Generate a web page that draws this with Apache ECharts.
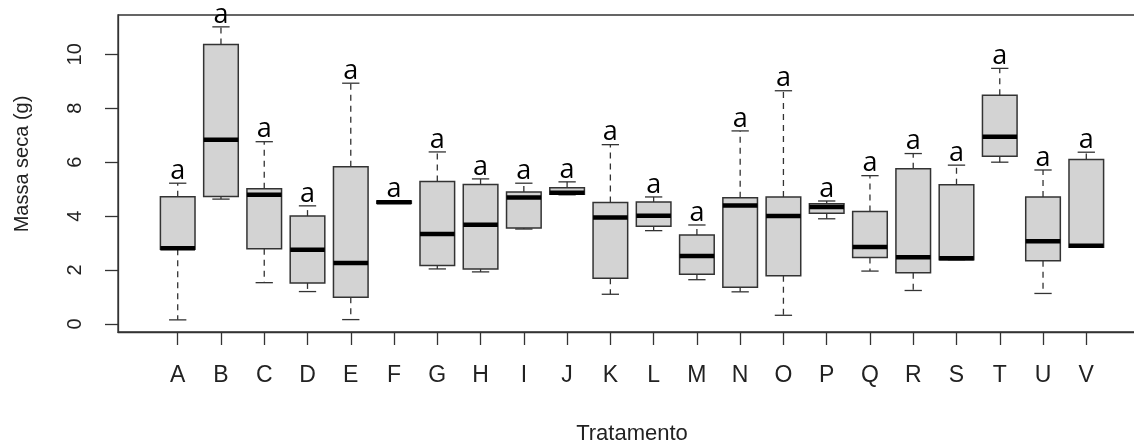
<!DOCTYPE html>
<html>
<head>
<meta charset="utf-8">
<script src="https://cdn.jsdelivr.net/npm/echarts@6/dist/echarts.min.js"></script>
<style>
html,body{margin:0;padding:0;background:#fff;}
#chart{width:1134px;height:443px;}
</style>
</head>
<body>
<div id="chart"></div>
<script>
const categories = ['A','B','C','D','E','F','G','H','I','J','K','L','M','N','O','P','Q','R','S','T','U','V'];
const whiskerLow  = [0.15, 4.63, 1.53, 1.20, 0.16, 4.48, 2.04, 1.93, 3.52, 4.79, 1.10, 3.46, 1.64, 1.19, 0.32, 3.90, 1.96, 1.24, 2.38, 6.00, 1.13, 2.84];
const q1          = [2.77, 4.73, 2.79, 1.52, 0.99, 4.48, 2.17, 2.04, 3.56, 4.81, 1.69, 3.62, 1.84, 1.36, 1.79, 4.11, 2.46, 1.90, 2.38, 6.22, 2.34, 2.84];
const median      = [2.81, 6.83, 4.79, 2.75, 2.26, 4.51, 3.34, 3.68, 4.69, 4.87, 3.95, 4.01, 2.52, 4.39, 4.00, 4.34, 2.85, 2.47, 2.44, 6.94, 3.07, 2.90];
const q3          = [4.72, 10.37, 5.01, 4.00, 5.83, 4.56, 5.28, 5.17, 4.89, 5.05, 4.50, 4.52, 3.30, 4.68, 4.71, 4.46, 4.17, 5.76, 5.16, 8.48, 4.71, 6.10];
const whiskerHigh = [5.22, 11.02, 6.76, 4.38, 8.93, 4.56, 6.38, 5.38, 5.22, 5.27, 6.65, 4.71, 3.67, 7.16, 8.65, 4.56, 5.50, 6.32, 5.89, 9.48, 5.71, 6.37];
const letters     = ['a','a','a','a','a','a','a','a','a','a','a','a','a','a','a','a','a','a','a','a','a','a'];
const yTicks = [0, 2, 4, 6, 8, 10];

const positions = categories.map((c, i) => i + 1);
const data = categories.map((c, i) => [positions[i], whiskerLow[i], q1[i], median[i], q3[i], whiskerHigh[i], i]);

const chart = echarts.init(document.getElementById('chart'), null, {renderer: 'canvas'});
const axisColor = '#333';
const textColor = '#222';

chart.setOption({
  backgroundColor: '#fff',
  animation: false,
  grid: {left: 118, top: 15, width: 1028, height: 317, outerBoundsMode: 'none', containLabel: false,
    show: true, borderColor: axisColor, borderWidth: 1.3, backgroundColor: 'transparent'},
  xAxis: {
    type: 'value', min: -0.38, max: 23.38,
    splitLine: {show: false},
    axisLine: {show: true, onZero: false, lineStyle: {color: axisColor, width: 1.3}},
    axisTick: {show: true, customValues: positions, length: 13, inside: false, lineStyle: {color: axisColor, width: 1.3}},
    axisLabel: {customValues: positions, margin: 32, formatter: v => categories[Math.round(v) - 1] || '',
      color: textColor, fontFamily: '"Liberation Sans", Arial, sans-serif', fontSize: 23},
    name: 'Tratamento', nameLocation: 'middle', nameGap: 91,
    nameTextStyle: {color: textColor, fontFamily: '"Liberation Sans", Arial, sans-serif', fontSize: 22}
  },
  yAxis: {
    type: 'value', min: -0.3, max: 11.46,
    splitLine: {show: false},
    axisLine: {show: true, onZero: false, lineStyle: {color: axisColor, width: 1.3}},
    axisTick: {show: true, customValues: yTicks, length: 13, lineStyle: {color: axisColor, width: 1.3}},
    axisLabel: {customValues: yTicks, rotate: 90, margin: 33, color: textColor,
      fontFamily: '"Liberation Sans", Arial, sans-serif', fontSize: 20}
  },
  graphic: [{
    type: 'text', x: 22, y: 164, rotation: Math.PI / 2,
    style: {text: 'Massa seca (g)', align: 'center', verticalAlign: 'middle', fill: textColor,
      font: '20px "Liberation Sans", Arial, sans-serif'}
  }],
  series: [{
    type: 'custom',
    clip: false,
    encode: {x: 0, y: [1, 2, 3, 4, 5]},
    data: data,
    renderItem: function (params, api) {
      const x = api.value(0);
      const lo = api.value(1), a = api.value(2), m = api.value(3), b = api.value(4), hi = api.value(5);
      const idx = api.value(6);
      const half = 0.4, capHalf = 0.2;
      const pTL = api.coord([x - half, b]);
      const pBR = api.coord([x + half, a]);
      const cx = api.coord([x, m])[0];
      const yLo = api.coord([x, lo])[1];
      const yA = api.coord([x, a])[1];
      const yM = api.coord([x, m])[1];
      const yB = api.coord([x, b])[1];
      const yHi = api.coord([x, hi])[1];
      const capL = api.coord([x - capHalf, hi])[0];
      const capR = api.coord([x + capHalf, hi])[0];
      const children = [];
      const dashStyle = {stroke: axisColor, lineWidth: 1.3, lineDash: [6, 5]};
      const solid = {stroke: axisColor, lineWidth: 1.3};
      if (yHi < yB - 0.5) children.push({type: 'line', shape: {x1: cx, y1: yB, x2: cx, y2: yHi}, style: dashStyle});
      if (yLo > yA + 0.5) children.push({type: 'line', shape: {x1: cx, y1: yA, x2: cx, y2: yLo}, style: dashStyle});
      children.push({type: 'line', shape: {x1: capL, y1: yHi, x2: capR, y2: yHi}, style: solid});
      children.push({type: 'line', shape: {x1: capL, y1: yLo, x2: capR, y2: yLo}, style: solid});
      children.push({type: 'rect', shape: {x: pTL[0], y: pTL[1], width: pBR[0] - pTL[0], height: pBR[1] - pTL[1]},
        style: {fill: '#d3d3d3', stroke: axisColor, lineWidth: 1.5}});
      children.push({type: 'line', shape: {x1: pTL[0], y1: yM, x2: pBR[0], y2: yM}, style: {stroke: '#000', lineWidth: 4.5}});
      children.push({type: 'text', style: {text: letters[idx], x: cx, y: yHi - 12, align: 'center', verticalAlign: 'middle',
        fill: '#000', font: '27px "Open Sans", sans-serif'}});
      return {type: 'group', children: children};
    }
  }]
});
</script>
</body>
</html>
